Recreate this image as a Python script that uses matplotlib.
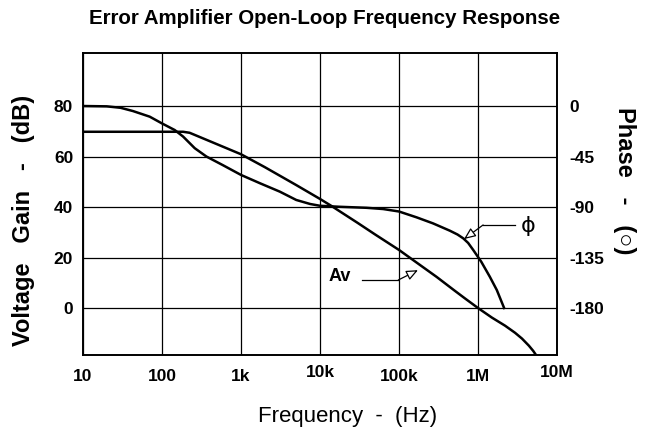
import matplotlib
matplotlib.use("Agg")
import matplotlib.pyplot as plt
from matplotlib.transforms import ScaledTranslation

plt.rcParams["font.family"] = ["Liberation Sans", "DejaVu Sans"]

# gain curve (dB)
gain_freq = [10, 100, 185, 224, 330, 590, 1e3, 2e3, 5e3, 1e4, 1.4e4, 3e4, 5e4, 1e5, 3e5, 5e5,
             6.84e5, 1e6, 1.5e6, 2.2e6, 2.94e6, 3.6e6, 4.4e6, 5e6, 5.5e6]
gain_db = [69.8, 69.8, 69.8, 69.4, 67.2, 63.9, 60.9, 55.8, 48.7, 43.2, 40.4, 33.7, 29.1, 23, 12.3, 7.0,
           3.8, 0, -3.8, -7.0, -9.8, -12.1, -14.9, -17, -18.9]

# phase curve (degrees)
phase_freq = [10, 20, 30, 43, 70, 100, 145, 185, 260, 365, 590, 1e3, 1.75e3, 3.1e3, 5e3, 7.5e3, 1e4,
              1.79e4, 3.88e4, 6.3e4, 1e5, 1.67e5, 2.7e5, 4.4e5, 5.5e5, 6.5e5, 7.5e5, 8.7e5, 1.1e6,
              1.41e6, 1.73e6, 2.14e6]
phase_deg = [0, -0.3, -1.6, -4.5, -9.5, -15.5, -21.4, -27.2, -37.6, -45, -52.7, -61.4, -68.9, -76.3,
             -83.7, -87.3, -88.9, -89.8, -90.7, -91.8, -94, -99.2, -104.6, -111.1, -114.5, -117.9,
             -122, -128.3, -138.8, -152.1, -164, -180]

freq_ticks = [10, 100, 1e3, 1e4, 1e5, 1e6, 1e7]
freq_labels = ["10", "100", "1k", "10k", "100k", "1M", "10M"]
gain_ticks = [0, 20, 40, 60, 80]
phase_ticks = [0, -45, -90, -135, -180]

GAIN_LIM = (-18.6, 101)
# phase axis shares the grid: 0 deg sits on 80 dB, -180 deg on 0 dB
PHASE_LIM = ((GAIN_LIM[0] - 80) * 2.25, (GAIN_LIM[1] - 80) * 2.25)

fig = plt.figure(figsize=(6.48, 4.28), dpi=100)
ax = fig.add_axes([0.128, 0.1706, 0.7316, 0.7056])
ax2 = ax.twinx()

ax.plot(gain_freq, gain_db, color="black", lw=1.8)
ax2.plot(phase_freq, phase_deg, color="black", lw=1.8)

ax.set_xscale("log")
ax.set_xlim(10, 1e7)
ax.set_ylim(*GAIN_LIM)
ax2.set_ylim(*PHASE_LIM)

ax.set_xticks(freq_ticks)
ax.set_xticklabels(freq_labels)
ax.xaxis.set_minor_locator(matplotlib.ticker.NullLocator())
ax.set_yticks(gain_ticks)
ax2.set_yticks(phase_ticks)
ax2.set_yticklabels([str(p) for p in phase_ticks])

ax.grid(True, color="black", lw=0.9)
ax.tick_params(axis="both", length=0, labelsize=12.5)
ax.tick_params(axis="x", pad=10)
ax.tick_params(axis="y", pad=7)
ax2.tick_params(axis="y", length=0, labelsize=12.5, pad=9)
for lab in ax.get_xticklabels() + ax.get_yticklabels() + ax2.get_yticklabels():
    lab.set_fontweight("bold")
# "10k" and "10M" sit a little higher in the original
for i in (3, 6):
    lab = ax.get_xticklabels()[i]
    lab.set_transform(lab.get_transform() + ScaledTranslation(0, 3 / 72, fig.dpi_scale_trans))
for a in (ax, ax2):
    for s in a.spines.values():
        s.set_linewidth(1.2)

fig.text(0.5015, 0.956, "Error Amplifier Open-Loop Frequency Response",
         ha="center", va="center", fontsize=14.8, fontweight="bold")
fig.text(0.037, 0.484, "Voltage   Gain   -   (dB)", rotation=90, ha="center", va="center",
         fontsize=17, fontweight="bold")
fig.text(0.536, 0.028, "Frequency  -  (Hz)", ha="center", va="center", fontsize=16)
fig.text(0.9645, 0.579, "Phase   -   (\u25cb)", rotation=-90, ha="center", va="center", fontsize=17,
         fontweight="bold")

# labels and pointer arrows
head = "-|>,head_length=0.7,head_width=0.3"
ax.text(1.79e4, 12.3, "Av", ha="center", va="center", fontsize=13, fontweight="bold")
ax.plot([3.4e4, 9.8e4], [11.1, 11.1], color="black", lw=0.9)
ax.annotate("", xy=(1.74e5, 15.0), xytext=(9.8e4, 11.1),
            arrowprops=dict(arrowstyle=head, fc="white", ec="black", lw=0.9, shrinkA=0, shrinkB=0))

ax.text(4.3e6, 32.5, "\u03d5", ha="center", va="center", fontsize=16, family=["DejaVu Sans"])
ax.plot([2.94e6, 1.16e6], [32.9, 32.9], color="black", lw=0.9)
ax.annotate("", xy=(6.65e5, 27.3), xytext=(1.16e6, 32.9),
            arrowprops=dict(arrowstyle=head, fc="white", ec="black", lw=0.9, shrinkA=0, shrinkB=0))

fig.savefig("out.png", dpi=100)
